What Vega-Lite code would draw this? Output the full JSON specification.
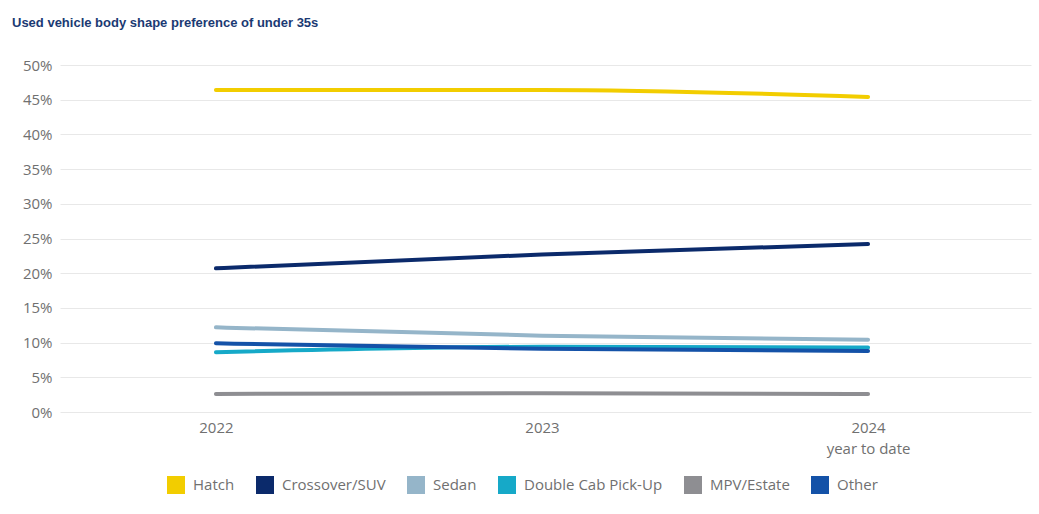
{
  "$schema": "https://vega.github.io/schema/vega-lite/v6.json",
  "width": 971,
  "height": 347,
  "autosize": {"type": "none"},
  "padding": {"left": 60, "top": 65, "right": 8, "bottom": 102},
  "background": "white",
  "config": {"view": {"stroke": null}},
  "title": {
    "text": "Used vehicle body shape preference of under 35s",
    "anchor": "start",
    "frame": "group",
    "dx": -48,
    "offset": 18,
    "baseline": "alphabetic",
    "font": "Liberation Sans",
    "fontSize": 13,
    "fontWeight": "bold",
    "color": "#1B3A73"
  },
  "data": {
    "values": [
      {"year": "2022", "series": "Hatch", "value": 46.4},
      {"year": "2023", "series": "Hatch", "value": 46.4},
      {"year": "2024", "series": "Hatch", "value": 45.4},
      {"year": "2022", "series": "Crossover/SUV", "value": 20.7},
      {"year": "2023", "series": "Crossover/SUV", "value": 22.7},
      {"year": "2024", "series": "Crossover/SUV", "value": 24.2},
      {"year": "2022", "series": "Sedan", "value": 12.2},
      {"year": "2023", "series": "Sedan", "value": 11.0},
      {"year": "2024", "series": "Sedan", "value": 10.4},
      {"year": "2022", "series": "Double Cab Pick-Up", "value": 8.6},
      {"year": "2023", "series": "Double Cab Pick-Up", "value": 9.4},
      {"year": "2024", "series": "Double Cab Pick-Up", "value": 9.3},
      {"year": "2022", "series": "MPV/Estate", "value": 2.6},
      {"year": "2023", "series": "MPV/Estate", "value": 2.7},
      {"year": "2024", "series": "MPV/Estate", "value": 2.6},
      {"year": "2022", "series": "Other", "value": 9.9},
      {"year": "2023", "series": "Other", "value": 9.1},
      {"year": "2024", "series": "Other", "value": 8.8}
    ]
  },
  "mark": {"type": "line", "strokeWidth": 4, "strokeCap": "round", "interpolate": "monotone"},
  "encoding": {
    "x": {
      "field": "year",
      "type": "ordinal",
      "scale": {"type": "point", "padding": 0.489, "align": 0.489},
      "axis": {
        "title": null,
        "labelAngle": 0,
        "ticks": false,
        "domain": false,
        "grid": false,
        "labelPadding": 8,
        "labelFont": "Open Sans",
        "labelFontSize": 15,
        "labelColor": "#707070",
        "labelLineHeight": 21,
        "labelExpr": "datum.value == '2024' ? ['2024', 'year to date'] : datum.value"
      }
    },
    "y": {
      "field": "value",
      "type": "quantitative",
      "scale": {"domain": [0, 50], "nice": false},
      "axis": {
        "title": null,
        "values": [0, 5, 10, 15, 20, 25, 30, 35, 40, 45, 50],
        "ticks": false,
        "domain": false,
        "gridColor": "#E8E8E8",
        "gridWidth": 1,
        "labelPadding": 8,
        "labelFont": "Open Sans",
        "labelFontSize": 15,
        "labelColor": "#707070",
        "labelExpr": "datum.value + '%'"
      }
    },
    "color": {
      "field": "series",
      "type": "nominal",
      "sort": ["Hatch", "Crossover/SUV", "Sedan", "Double Cab Pick-Up", "MPV/Estate", "Other"],
      "scale": {
        "domain": ["Hatch", "Crossover/SUV", "Sedan", "Double Cab Pick-Up", "MPV/Estate", "Other"],
        "range": ["#F2CD00", "#0B2A6B", "#95B5C9", "#16A9C8", "#8E8E92", "#1452A8"]
      },
      "legend": {
        "title": null,
        "orient": "none",
        "direction": "horizontal",
        "legendX": 107,
        "legendY": 411,
        "symbolType": "square",
        "symbolSize": 324,
        "symbolStrokeWidth": 0,
        "symbolOpacity": 1,
        "labelFont": "Open Sans",
        "labelFontSize": 15,
        "labelColor": "#707070",
        "labelOffset": 8,
        "columnPadding": 21,
        "encode": {
          "symbols": {"update": {"fill": {"scale": "color", "field": "value"}, "fillOpacity": {"value": 1}}}
        }
      }
    },
    "order": {"field": "series"}
  }
}
